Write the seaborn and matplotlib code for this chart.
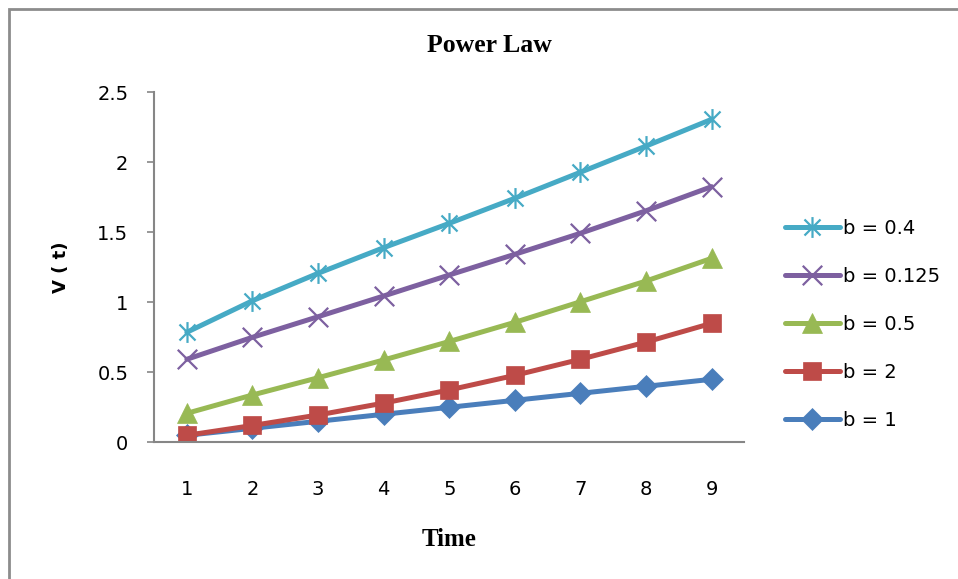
import numpy as np
import pandas as pd
import matplotlib
matplotlib.use("Agg")
import matplotlib.pyplot as plt
from matplotlib.path import Path
from matplotlib.patches import Rectangle
import seaborn as sns

time = [1, 2, 3, 4, 5, 6, 7, 8, 9]
v_b1 = [0.05, 0.10, 0.15, 0.20, 0.25, 0.30, 0.35, 0.40, 0.45]
v_b2 = [0.05, 0.12, 0.195, 0.28, 0.374, 0.478, 0.593, 0.716, 0.85]
v_b05 = [0.207, 0.338, 0.461, 0.588, 0.72, 0.857, 1.004, 1.152, 1.314]
v_b0125 = [0.593, 0.75, 0.897, 1.045, 1.195, 1.343, 1.493, 1.654, 1.826]
v_b04 = [0.786, 1.011, 1.207, 1.39, 1.564, 1.743, 1.929, 2.116, 2.307]
series_labels = ["b = 1", "b = 2", "b = 0.5", "b = 0.125", "b = 0.4"]
y_ticks = [0, 0.5, 1, 1.5, 2, 2.5]
y_tick_labels = ["0", "0.5", "1", "1.5", "2", "2.5"]

# Excel-style star marker: an X with a vertical bar through it
star = Path(
    [(-1, -1), (1, 1), (-1, 1), (1, -1), (0, -1.3), (0, 1.3)],
    [Path.MOVETO, Path.LINETO, Path.MOVETO, Path.LINETO, Path.MOVETO, Path.LINETO],
)
cross = Path(
    [(-1, -1), (1, 1), (-1, 1), (1, -1)],
    [Path.MOVETO, Path.LINETO, Path.MOVETO, Path.LINETO],
)

styles = [
    dict(color="#4A7EBB", marker="D", ms=11.5, filled=True),
    dict(color="#BE4B48", marker="s", ms=13.5, filled=True),
    dict(color="#98B954", marker="^", ms=14, filled=True),
    dict(color="#7D60A0", marker=cross, ms=14, filled=False),
    dict(color="#46AAC5", marker=star, ms=15, filled=False),
]

sns.set_style("white")
plt.rcParams["font.family"] = ["DejaVu Sans"]
plt.rcParams["text.color"] = "black"
plt.rcParams["axes.labelcolor"] = "black"

fig = plt.figure(figsize=(9.58, 5.79), dpi=100)
ax = fig.add_axes([0.1608, 0.2361, 0.7771 - 0.1608, 0.8406 - 0.2361])

all_values = [v_b1, v_b2, v_b05, v_b0125, v_b04]
for vals, lab, st in zip(all_values, series_labels, styles):
    df = pd.DataFrame({"Time": time, "V": vals})
    kw = dict(markersize=st["ms"], markeredgecolor=st["color"])
    if st["filled"]:
        kw.update(markerfacecolor=st["color"], markeredgewidth=0.5)
    else:
        kw.update(markerfacecolor="none", markeredgewidth=1.6)
    sns.lineplot(data=df, x="Time", y="V", ax=ax, color=st["color"],
                 marker=st["marker"], linewidth=3.6, label=lab,
                 solid_capstyle="round", **kw)

ax.set_xlim(0.5, 9.5)
ax.set_ylim(0, 2.5)
ax.set_yticks(y_ticks)
ax.set_yticklabels(y_tick_labels)
ax.set_xticks(time)
ax.set_xticklabels([str(t) for t in time])

for side in ["top", "right"]:
    ax.spines[side].set_visible(False)
for side in ["left", "bottom"]:
    ax.spines[side].set_color("#868686")
    ax.spines[side].set_linewidth(1.5)

ax.tick_params(axis="y", which="major", direction="out", length=5.4, width=1.2,
               color="#868686", labelcolor="black", labelsize=14, pad=13,
               left=True)
ax.tick_params(axis="x", which="major", length=0, labelcolor="black",
               labelsize=14, pad=27)

ax.set_xlabel("Time", fontsize=18, fontweight="bold",
              family=["Liberation Serif", "DejaVu Serif"], labelpad=21)
ax.set_ylabel("V ( t)", fontsize=13, fontweight="bold", labelpad=20)

# Chart title sits centred over the whole chart area rather than the axes
fig.text(489.5 / 958, 1 - 45 / 579, "Power Law", fontsize=18.5,
         fontweight="bold", family=["Liberation Serif", "DejaVu Serif"],
         ha="center", va="center", color="black")

handles, labels = ax.get_legend_handles_labels()
leg = ax.legend(handles[::-1], labels[::-1], loc="center left",
                bbox_to_anchor=(1.0685, 0.337), frameon=False, fontsize=14,
                handlelength=2.83, handletextpad=0.15, labelspacing=1.5,
                borderaxespad=0, borderpad=0)

# Outer chart frame (left and top edges fall inside the canvas)
fig.patches.append(Rectangle((9 / 958, -0.05), 1.2, (579 - 9) / 579 + 0.05,
                             transform=fig.transFigure, fill=False,
                             edgecolor="#8C8C8C", linewidth=2))

fig.savefig("out.png", dpi=100)
